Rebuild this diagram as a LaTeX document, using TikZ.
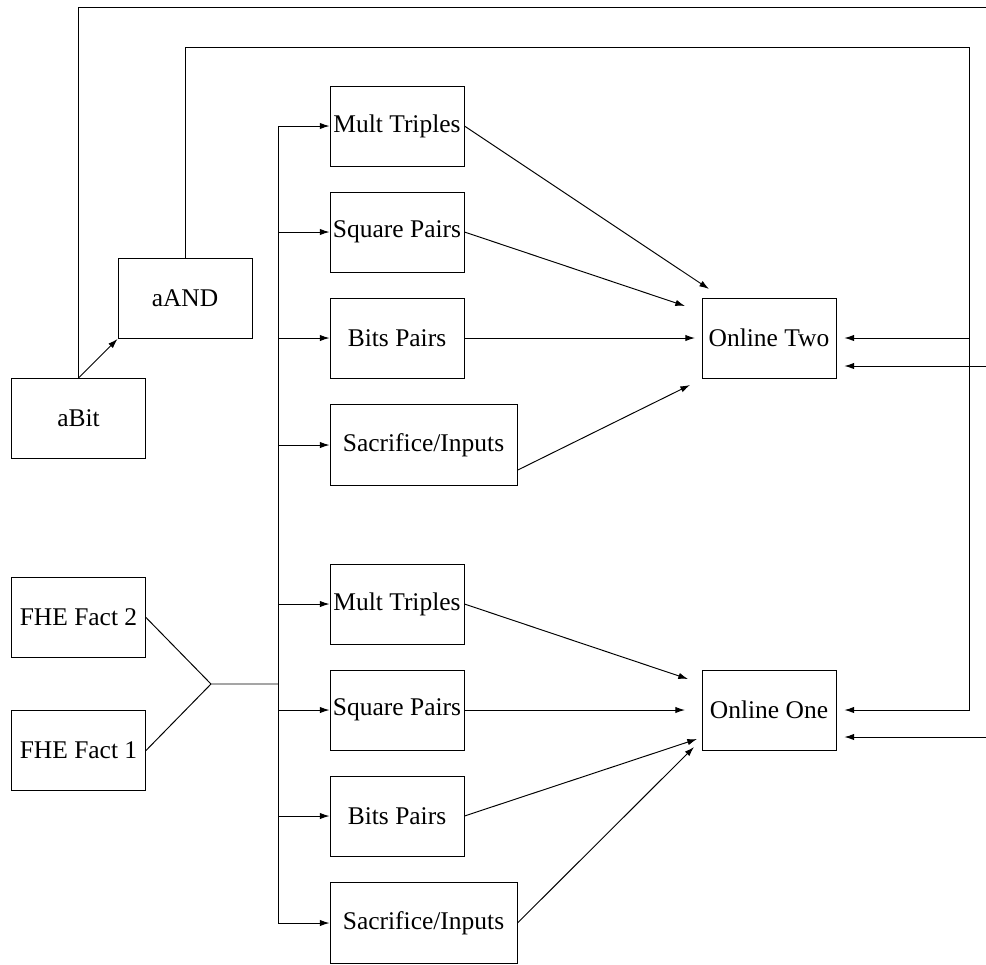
\documentclass[tikz,border=0pt]{standalone}
\usepackage{fontspec}
\setmainfont{Liberation Serif}
\usetikzlibrary{arrows.meta}

\begin{document}
\begin{tikzpicture}
        [x=0.02cm,y=-0.02cm,line width=0.55pt,>={Latex[length=5.5pt,width=3.6pt]},
         every node/.style={draw,rectangle,inner sep=1pt,font=\fontsize{14.5}{17}\selectfont},
         unit/.style={minimum width=2.68cm,minimum height=1.6cm},
         wide/.style={minimum width=3.74cm,minimum height=1.62cm},
         gap/.style={->,shorten >=4.5pt}]
        \useasboundingbox (0,0) rectangle (986,964);

        \node[unit] (abit) at (78.5,418.5) {aBit};
        \node[unit] (aand) at (185,298.5) {aAND};
        \node[unit] (fhe2) at (78.5,617.5) {FHE Fact 2};
        \node[unit] (fhe1) at (78.5,750.5) {FHE Fact 1};

        \node[unit] (mt2) at (397,126) {Mult Triples};
        \node[unit] (sp2) at (397,232) {Square Pairs};
        \node[unit] (bp2) at (397,338) {Bits Pairs};
        \node[wide] (si2) at (423.5,445) {Sacrifice/Inputs};
        \node[unit] (mt1) at (397,604) {Mult Triples};
        \node[unit] (sp1) at (397,710) {Square Pairs};
        \node[unit] (bp1) at (397,816) {Bits Pairs};
        \node[wide] (si1) at (423.5,923) {Sacrifice/Inputs};

        \node[unit] (on2) at (769,338) {Online Two};
        \node[unit] (on1) at (769,710) {Online One};

        \coordinate (join) at (211,684);
        \coordinate (bus) at (278,684);
        \coordinate (topA) at (986,7);
        \coordinate (bend) at (969,47);
        \coordinate (inA) at (986,366);
        \coordinate (inB) at (986,737);

        % aBit and aAND
        \draw[->] (abit.north) -- (aand.south west);
        \draw (abit.north) |- (topA);
        \draw[gap] (aand.north) |- (bend) |- (on1.east);
        \draw[gap] (bend |- on2.east) -- (on2.east);
        \draw[gap] (inA) -- (inA -| on2.east);
        \draw[gap] (inB) -- (inB -| on1.east);

        % FHE into the bus
        \draw (fhe2.east) -- (join) -- (bus);
        \draw (fhe1.east) -- (join);
        \draw (mt2.west -| bus) -- (si1.west -| bus);
        \foreach \n in {mt2,sp2,bp2,si2,mt1,sp1,bp1,si1}
            \draw[->] (\n.west -| bus) -- (\n.west);

        % into Online Two
        \draw[->] (mt2.east) -- (709,289);
        \draw[->] (sp2.east) -- (685,306);
        \draw[->] (bp2.east) -- (695,338);
        \draw[->] (si2.-15.5) -- (690,385);

        % into Online One
        \draw[->] (mt1.east) -- (688,679);
        \draw[->] (sp1.east) -- (685,710);
        \draw[->] (bp1.east) -- (697,739);
        \draw[->] (si1.east) -- (694,747);
    \end{tikzpicture}
\end{document}
